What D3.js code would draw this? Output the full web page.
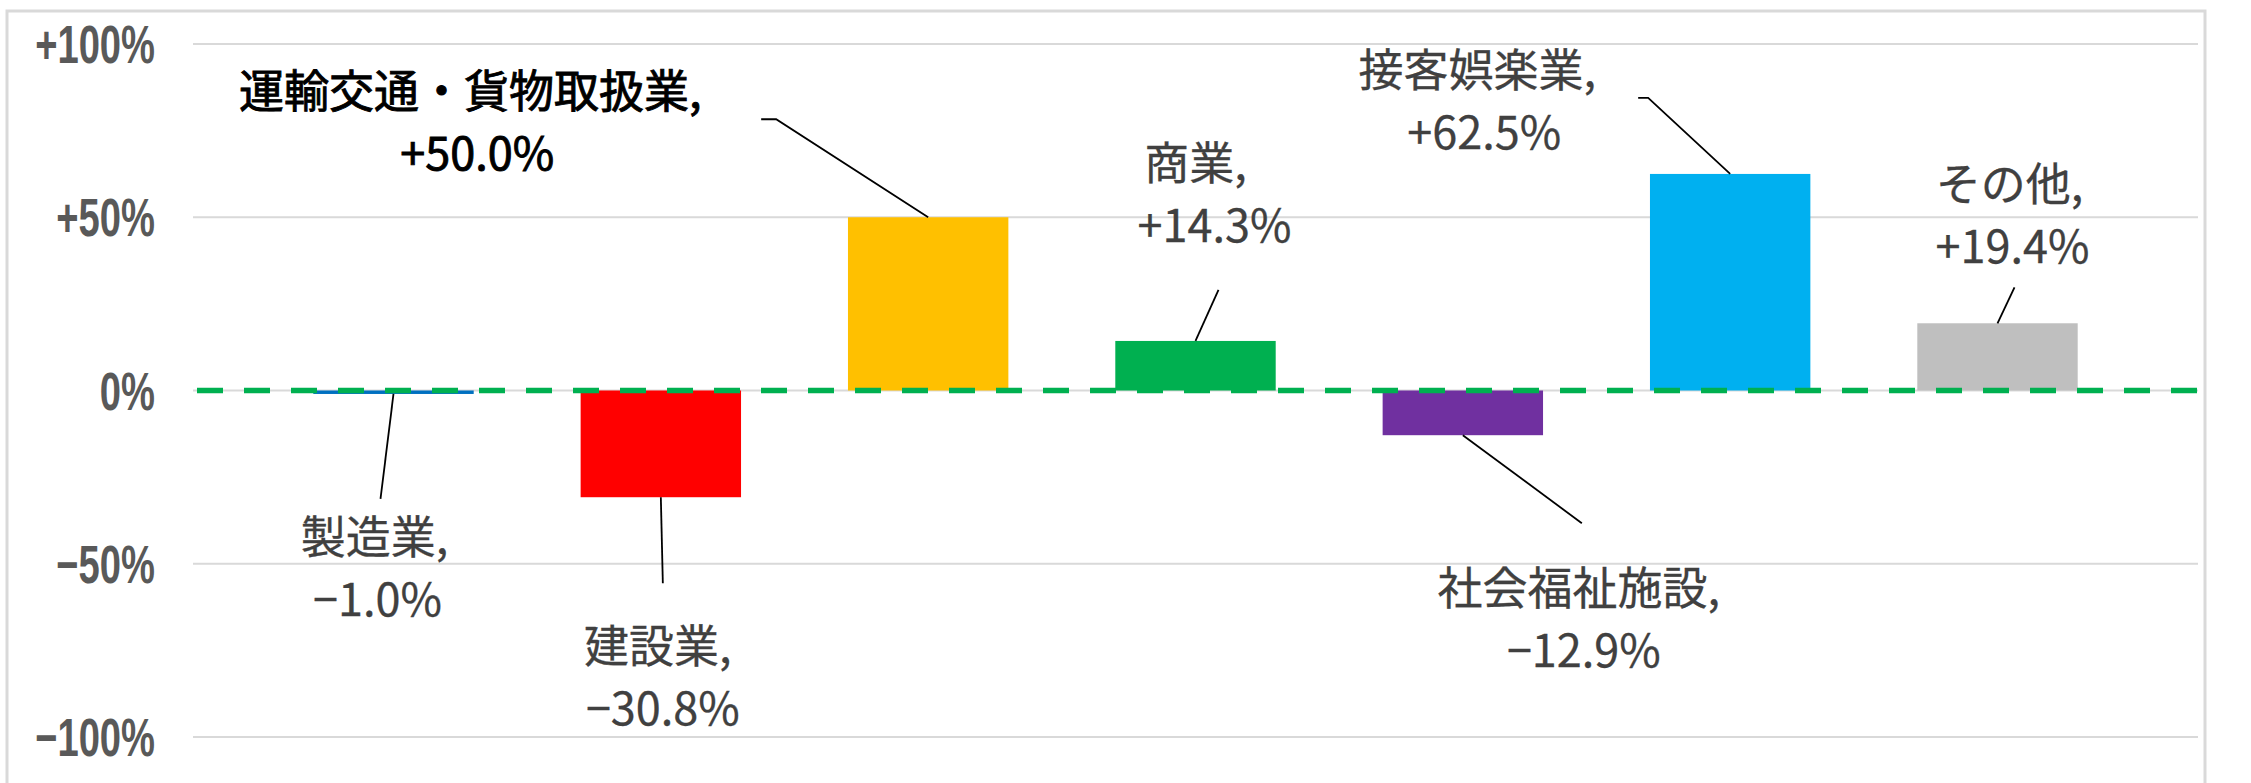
<!DOCTYPE html>
<html>
<head>
<meta charset="utf-8">
<script src="https://cdn.jsdelivr.net/npm/d3@7/dist/d3.min.js"></script>
<style>
  html, body { margin: 0; padding: 0; background: #ffffff; }
  svg { display: block; }
</style>
</head>
<body>
<svg id="chart" width="2251" height="783"></svg>
<script>
// ---- data ----
const categories = ["製造業", "建設業", "運輸交通・貨物取扱業", "商業", "社会福祉施設", "接客娯楽業", "その他"];
const values = [-1.0, -30.8, 50.0, 14.3, -12.9, 62.5, 19.4];
const barColors = ["#0070C0", "#FF0000", "#FFC000", "#00B050", "#7030A0", "#00B0F0", "#BFBFBF"];
const yTicks = [100, 50, 0, -50, -100];
const yTickLabels = ["+100%", "+50%", "0%", "−50%", "−100%"];

// ---- label layout (offsets from bar centre / bar end) ----
const labelDx1 = [-19, -3, -458, 0, 116, -253, 12];
const labelDx2 = [-16, 2, -451, 19, 121, -246, 15];
const labelDy1 = [160, 166, -109, -161, 170, -87, -122];
const leaderPts = [
  [[-13, 105]],
  [[2, 86]],
  [[-152, -98], [-167, -98]],
  [[23, -51]],
  [[119, 88]],
  [[-82, -76], [-92, -76]],
  [[17, -36]]
];

const plotL = 193, plotR = 2198, plotT = 44, plotB = 737;

const svg = d3.select("#chart");

// outer chart border
svg.append("rect")
  .attr("x", 7).attr("y", 11)
  .attr("width", 2198).attr("height", 800)
  .attr("fill", "#fff")
  .attr("stroke", "#D9D9D9").attr("stroke-width", 3);

const x = d3.scaleBand()
  .domain(categories)
  .range([plotL, plotR])
  .paddingInner(0.4)
  .paddingOuter(0.45);

const y = d3.scaleLinear()
  .domain([-100, 100])
  .range([plotB, plotT]);

// gridlines
svg.append("g")
  .selectAll("line")
  .data(yTicks)
  .join("line")
  .attr("x1", plotL).attr("x2", plotR)
  .attr("y1", d => y(d)).attr("y2", d => y(d))
  .attr("stroke", "#D9D9D9").attr("stroke-width", 2);

// y axis labels (condensed sans)
const yl = svg.append("g")
  .selectAll("g")
  .data(yTicks)
  .join("g")
  .attr("transform", d => `translate(155, ${y(d) + 19}) scale(0.72, 1)`);
yl.append("text")
  .attr("text-anchor", "end")
  .attr("font-family", "'Liberation Sans', Arial, sans-serif")
  .attr("font-size", 53)
  .attr("font-weight", 700)
  .attr("fill", "#595959")
  .text((d, i) => yTickLabels[i]);

// bars
svg.append("g")
  .selectAll("rect")
  .data(values)
  .join("rect")
  .attr("x", (d, i) => x(categories[i]))
  .attr("width", x.bandwidth())
  .attr("y", d => Math.min(y(d), y(0)))
  .attr("height", d => Math.abs(y(d) - y(0)))
  .attr("fill", (d, i) => barColors[i]);

// zero dashed line
svg.append("line")
  .attr("x1", plotL + 4).attr("x2", plotR)
  .attr("y1", y(0)).attr("y2", y(0))
  .attr("stroke", "#00B050")
  .attr("stroke-width", 5.5)
  .attr("stroke-dasharray", "26,21");

// leader lines
const line = d3.line();
svg.append("g")
  .selectAll("path")
  .data(values)
  .join("path")
  .attr("d", (d, i) => {
    const cx = x(categories[i]) + x.bandwidth() / 2;
    const cy = y(d);
    const pts = [[cx, cy]].concat(leaderPts[i].map(p => [cx + p[0], cy + p[1]]));
    return line(pts);
  })
  .attr("fill", "none")
  .attr("stroke", "#000")
  .attr("stroke-width", 1.8);

// data labels
const fmt = v => (v > 0 ? "+" : v < 0 ? "−" : "") + Math.abs(v).toFixed(1) + "%";
const lineH = 62;
const lbl = svg.append("g")
  .selectAll("text")
  .data(values)
  .join("text")
  .attr("font-family", "'Noto Sans CJK JP', 'Noto Sans', sans-serif")
  .attr("font-size", 45)
  .attr("text-anchor", "middle")
  .attr("fill", (d, i) => i === 2 ? "#000000" : "#404040")
  .attr("stroke", (d, i) => i === 2 ? "#000000" : "#404040")
  .attr("stroke-width", (d, i) => i === 2 ? 0.9 : 0.3);

lbl.append("tspan")
  .attr("x", (d, i) => x(categories[i]) + x.bandwidth() / 2 + labelDx1[i])
  .attr("y", (d, i) => y(d) + labelDy1[i])
  .text((d, i) => categories[i] + ",");
lbl.append("tspan")
  .attr("x", (d, i) => x(categories[i]) + x.bandwidth() / 2 + labelDx2[i])
  .attr("y", (d, i) => y(d) + labelDy1[i] + lineH)
  .text(d => fmt(d));
</script>
</body>
</html>
